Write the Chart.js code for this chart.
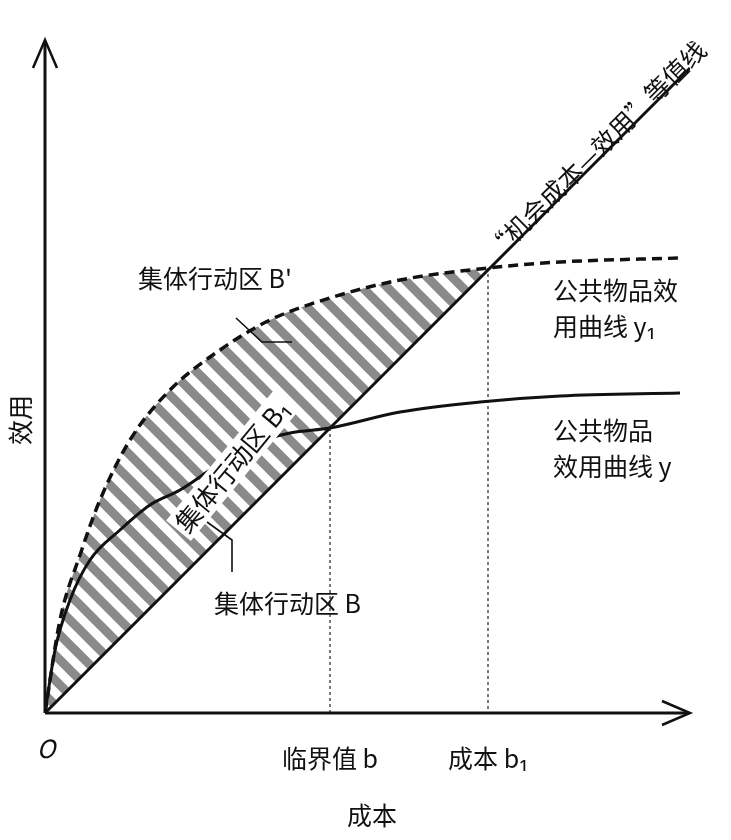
<!DOCTYPE html>
<html><head><meta charset="utf-8">
<script src="https://cdn.jsdelivr.net/npm/chart.js@4"></script>
<style>html,body{margin:0;background:#fff}#w{width:731px;height:840px}</style>
</head><body><div id="w"><canvas id="c"></canvas></div>
<script>
const dashedX=[0,15,35,55,85,125,175,225,285,355,443,515,635];
const dashedY=[0,93,158,213,273,323,363,393,415,433,445,451,455];
const solidX=[0,10,25,45,75,105,135,165,205,245,285,355,435,515,635];
const solidY=[0,63,113,153,183,208,223,243,268,280,285,301,311,317,320];
const diagX=[0,645];
const diagY=[0,645];
const critX=[285,443];
const critY=[285,445];
const tickLabels=['临界值 b','成本 b₁'];
const F='"Noto Sans CJK SC","Noto Sans",sans-serif';

function pattern(){
  const P=25,c=document.createElement('canvas');c.width=P;c.height=P;
  const x=c.getContext('2d');x.strokeStyle='#8a8a8a';x.lineWidth=9;x.lineCap='butt';
  x.beginPath();
  for(const o of [-P,0,P]){x.moveTo(o-P,-P);x.lineTo(o+2*P,2*P);}
  x.stroke();
  return x.createPattern(c,'repeat');
}
const pts=(xs,ys)=>xs.map((v,i)=>({x:v,y:ys[i]}));

const deco={id:'deco',afterDatasetsDraw(ch){
  const c=ch.ctx,X=ch.scales.x,Y=ch.scales.y;
  const px=v=>X.getPixelForValue(v),py=v=>Y.getPixelForValue(v);
  c.save();c.strokeStyle='#111';c.fillStyle='#111';c.lineWidth=3;
  const ox=px(0),oy=py(0);
  c.beginPath();c.moveTo(ox,oy);c.lineTo(ox,py(673)+2);c.moveTo(ox,oy);c.lineTo(px(645)-2,oy);c.stroke();
  c.lineWidth=2.5;c.beginPath();
  c.moveTo(ox-12,py(673)+28);c.lineTo(ox,py(673));c.lineTo(ox+12,py(673)+28);
  c.moveTo(px(645)-28,oy-12);c.lineTo(px(645),oy);c.lineTo(px(645)-28,oy+12);c.stroke();
  c.lineWidth=1.6;c.beginPath();
  c.moveTo(236,318);c.lineTo(262,342);c.lineTo(292,342);
  c.moveTo(207,522);c.lineTo(232,540);c.lineTo(232,572);c.stroke();
  c.font='25px '+F;c.textBaseline='middle';c.textAlign='left';
  c.fillText('集体行动区 B\'',138,278);
  c.fillText('集体行动区 B',214,603);
  c.fillText('公共物品效',553,290);c.fillText('用曲线 y₁',553,326);
  c.fillText('公共物品',553,430);c.fillText('效用曲线 y',553,466);
  c.textAlign='center';
  tickLabels.forEach((t,i)=>c.fillText(t,px(critX[i]),758));
  c.fillText('成本',372,815);
  c.font='italic 25px '+F;c.fillText('O',46,748);
  c.font='25px '+F;
  c.save();c.translate(20,420);c.rotate(-Math.PI/2);c.fillText('效用',0,0);c.restore();
  c.save();c.translate(596,150);c.rotate(-Math.atan2(638,645));c.fillText('“机会成本—效用”等值线',0,0);c.restore();
  c.font='26px '+F;
  c.save();c.translate(232,466);c.rotate(-0.88);
  const t='集体行动区 B₁',w=c.measureText(t).width;
  c.fillStyle='#fff';c.fillRect(-w/2-3,-16,w+6,32);c.fillStyle='#111';c.fillText(t,0,0);c.restore();
  c.restore();
}};

new Chart(document.getElementById('c'),{
  type:'scatter',
  data:{datasets:[
    {data:pts(dashedX,dashedY),showLine:true,borderColor:'#111',borderWidth:3.5,borderDash:[10,6],pointRadius:0,cubicInterpolationMode:'monotone',fill:{target:2,above:pattern(),below:'rgba(0,0,0,0)'}},
    {data:pts(solidX,solidY),showLine:true,borderColor:'#111',borderWidth:3,pointRadius:0,cubicInterpolationMode:'monotone'},
    {data:pts(diagX,diagY),showLine:true,borderColor:'#111',borderWidth:3,pointRadius:0},
    {data:[{x:critX[0],y:critY[0]},{x:critX[0],y:0}],showLine:true,borderColor:'#222',borderWidth:1.2,borderDash:[3,3],pointRadius:0},
    {data:[{x:critX[1],y:critY[1]},{x:critX[1],y:0}],showLine:true,borderColor:'#222',borderWidth:1.2,borderDash:[3,3],pointRadius:0}
  ]},
  options:{responsive:true,maintainAspectRatio:false,animation:false,
    layout:{padding:{left:45,right:41,top:40,bottom:127}},
    plugins:{legend:{display:false},tooltip:{enabled:false},filler:{drawTime:'beforeDatasetsDraw'}},
    scales:{x:{type:'linear',min:0,max:645,display:false},y:{type:'linear',min:0,max:673,display:false}}},
  plugins:[deco]
});
</script></body></html>
